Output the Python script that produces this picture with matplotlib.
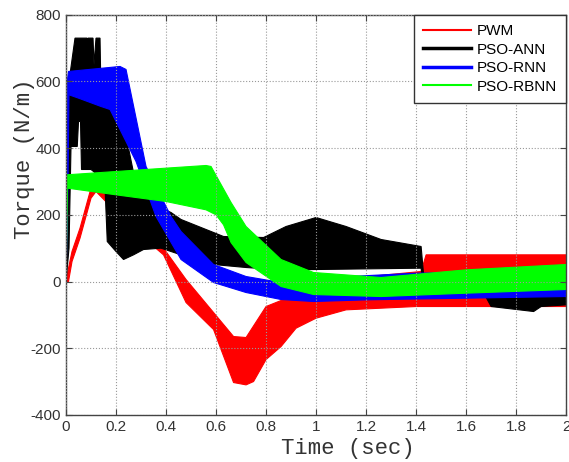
import numpy as np
import matplotlib
matplotlib.use("Agg")
import matplotlib.pyplot as plt

plt.rcParams["axes.unicode_minus"] = False

# Envelopes (upper / lower) of each heavily oscillating torque trace
pwm_t_up = [0.0, 0.01, 0.024, 0.056, 0.10, 0.12, 0.25, 0.39, 0.48, 0.59, 0.67, 0.72, 0.80, 0.87, 0.95, 1.0, 1.42, 1.44, 2.0]
pwm_up = [0, 40, 90, 160, 280, 305, 200, 100, 6, -93, -165, -168, -75, -54, -20, 0, 30, 80, 80]
pwm_t_lo = [0.0, 0.01, 0.024, 0.056, 0.10, 0.12, 0.25, 0.39, 0.48, 0.59, 0.67, 0.72, 0.75, 0.80, 0.86, 0.92, 1.0, 1.12, 1.4, 2.0]
pwm_lo = [0, 0, 60, 130, 250, 270, 170, 80, -63, -144, -303, -310, -300, -234, -195, -140, -110, -85, -75, -75]

ann_t_up = [0.0, 0.008, 0.012, 0.036, 0.084, 0.086, 0.088, 0.108, 0.112, 0.12, 0.136, 0.14, 0.2,
            0.25, 0.28, 0.35, 0.42, 0.46, 0.63, 0.79, 0.88, 1.0, 1.12, 1.26, 1.42, 1.43, 2.0]
ann_up = [0, 150, 600, 730, 730, 650, 730, 730, 650, 730, 730, 560, 520,
          400, 290, 230, 207, 186, 135, 132, 165, 192, 165, 126, 105, 20, 20]
ann_t_lo = [0.0, 0.012, 0.02, 0.045, 0.05, 0.058, 0.062, 0.1, 0.11, 0.155, 0.165, 0.2, 0.23, 0.27, 0.31, 0.38,
            0.5, 0.59, 0.72, 0.86, 1.0, 1.42, 1.43, 1.66, 1.7, 1.87, 1.9, 2.0]
ann_lo = [0, 100, 405, 405, 480, 480, 336, 336, 330, 300, 120, 90, 66, 80, 96, 100,
          70, 51, 42, 35, 36, 40, -20, -20, -75, -90, -75, -70]

rnn_t_up = [0.0, 0.005, 0.01, 0.216, 0.24, 0.32, 0.42, 0.46, 0.59, 0.72, 0.86, 1.0, 1.4, 2.0]
rnn_up = [0, 600, 630, 645, 636, 345, 195, 150, 51, 15, -3, 10, 25, 30]
rnn_t_lo = [0.0, 0.008, 0.012, 0.05, 0.14, 0.176, 0.28, 0.36, 0.46, 0.59, 0.72, 0.86, 0.99, 1.2, 2.0]
rnn_lo = [0, 300, 560, 550, 525, 516, 360, 195, 66, -3, -33, -54, -60, -55, -45]

rbnn_t_up = [0.0, 0.003, 0.3, 0.56, 0.58, 0.66, 0.72, 0.86, 0.99, 1.26, 1.6, 2.0]
rbnn_up = [0, 320, 335, 348, 345, 237, 165, 66, 27, 12, 35, 51]
rbnn_t_lo = [0.0, 0.006, 0.2, 0.4, 0.56, 0.6, 0.63, 0.66, 0.72, 0.86, 0.99, 1.26, 1.6, 2.0]
rbnn_lo = [0, 280, 260, 240, 215, 200, 170, 117, 57, -15, -39, -45, -35, -24]

x_ticks = [0, 0.2, 0.4, 0.6, 0.8, 1.0, 1.2, 1.4, 1.6, 1.8, 2.0]
x_labels = ["0", "0.2", "0.4", "0.6", "0.8", "1", "1.2", "1.4", "1.6", "1.8", "2"]
y_ticks = [-400, -200, 0, 200, 400, 600, 800]

series = [
    ("PWM", "#ff0000", pwm_t_up, pwm_up, pwm_t_lo, pwm_lo, 1.5),
    ("PSO-ANN", "#000000", ann_t_up, ann_up, ann_t_lo, ann_lo, 2.5),
    ("PSO-RNN", "#0000ff", rnn_t_up, rnn_up, rnn_t_lo, rnn_lo, 2.5),
    ("PSO-RBNN", "#00ff00", rbnn_t_up, rbnn_up, rbnn_t_lo, rbnn_lo, 1.5),
]

fig = plt.figure(figsize=(5.69, 4.62), dpi=100)
ax = fig.add_axes([0.116, 0.102, 0.879, 0.866])

for name, col, tu, vu, tl, vl, lw in series:
    xs = np.concatenate([tu, tl[::-1]])
    ys = np.concatenate([vu, vl[::-1]])
    ax.fill(xs, ys, color=col, lw=0.8, edgecolor=col)
    ax.plot([], [], color=col, lw=lw, label=name)

ax.set_xlim(0, 2)
ax.set_ylim(-400, 800)
ax.set_xticks(x_ticks)
ax.set_xticklabels(x_labels)
ax.set_yticks(y_ticks)
ax.tick_params(direction="in", top=True, right=True, labelsize=11, length=4, color="#444444")
for lab in ax.get_xticklabels() + ax.get_yticklabels():
    lab.set_family("Liberation Sans")
    lab.set_color("#333333")
for s in ax.spines.values():
    s.set_color("#444444")
    s.set_linewidth(1.0)
ax.grid(True, linestyle=":", color="#999999", linewidth=0.8)
ax.set_axisbelow(False)

ax.set_xlabel("Time (sec)", family="Liberation Mono", fontsize=16, color="#333333")
ax.set_ylabel("Torque (N/m)", family="Liberation Mono", fontsize=16, color="#333333")
ax.xaxis.set_label_coords(0.564, -0.058)
ax.yaxis.set_label_coords(-0.062, 0.64)

leg = ax.legend(loc="upper right", borderaxespad=0, fancybox=False, framealpha=1,
                edgecolor="#333333", prop={"family": "Liberation Sans", "size": 11},
                handlelength=3.1, handletextpad=0.4, labelspacing=0.3, borderpad=0.6)
leg.get_frame().set_linewidth(1.0)

fig.savefig("out.png", dpi=100)
